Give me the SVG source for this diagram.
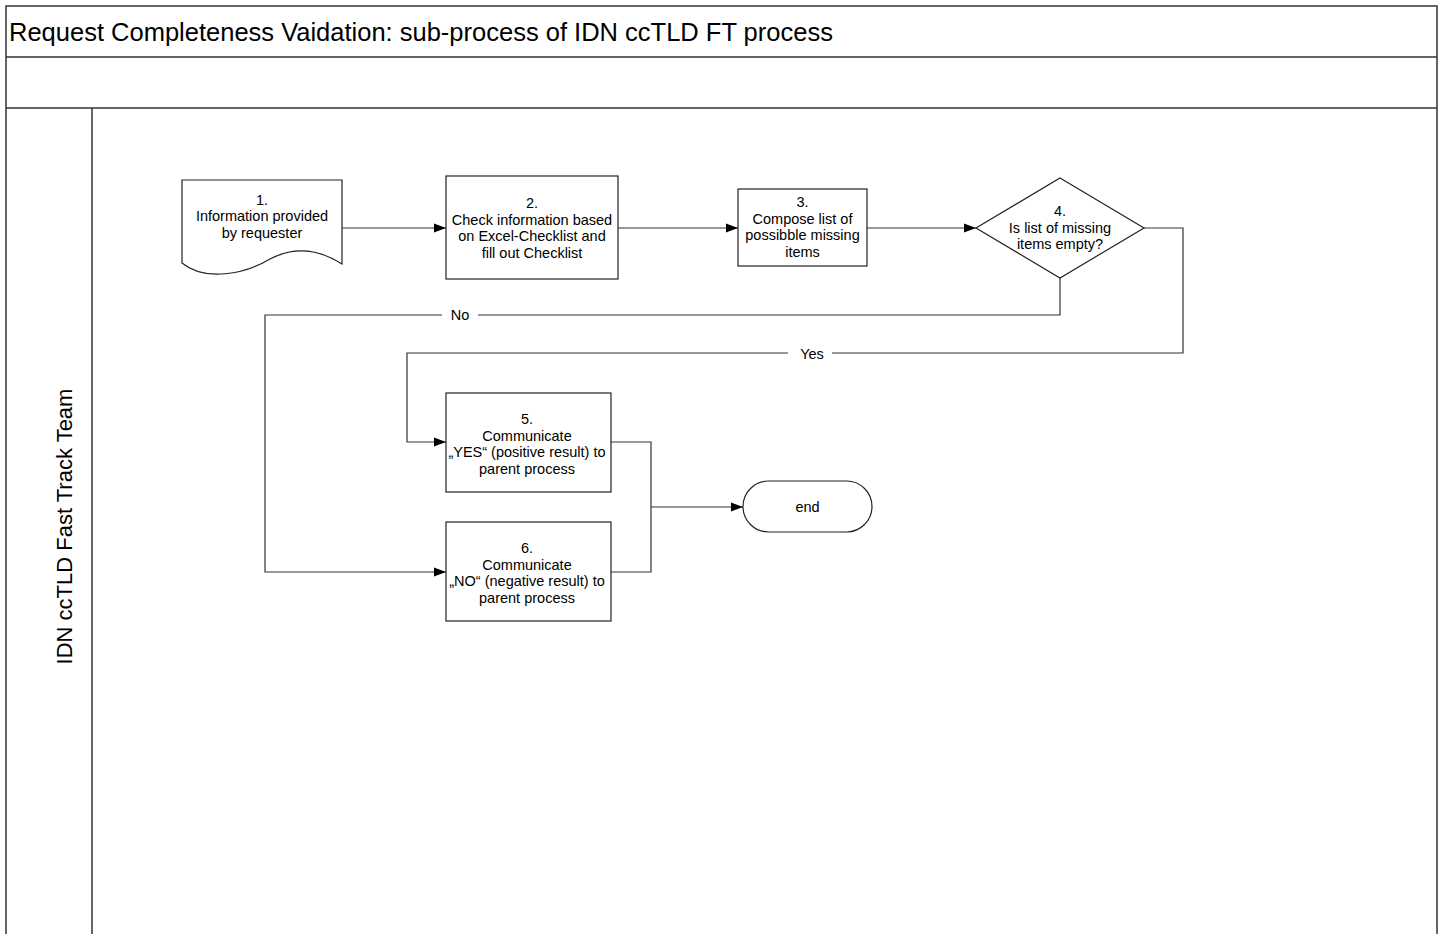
<svg xmlns="http://www.w3.org/2000/svg" width="1444" height="934" viewBox="0 0 1444 934">
<style>
  text { font-family: "Liberation Sans", Arial, sans-serif; fill: #000; }
  .t { font-size: 14.5px; text-anchor: middle; }
  .shape { fill: #fff; stroke: #222; stroke-width: 1.2; }
  .conn { fill: none; stroke: #333; stroke-width: 1.2; }
  .frame { fill: none; stroke: #333; stroke-width: 1.5; }
</style>
<defs>
  <marker id="arr" markerWidth="12" markerHeight="10" refX="12" refY="5" orient="auto" markerUnits="userSpaceOnUse">
    <path d="M0,0.5 L12,5 L0,9.5 Z" fill="#000"/>
  </marker>
</defs>
<rect width="1444" height="934" fill="#fff"/>
<g id="pool">
  <path class="frame" d="M6,940 V6 H1437 V940"/>
  <line class="frame" x1="6" y1="57" x2="1437" y2="57"/>
  <line class="frame" x1="6" y1="108" x2="1437" y2="108"/>
  <line class="frame" x1="92" y1="108" x2="92" y2="940"/>
  <text x="9" y="41" style="font-size:25.5px">Request Completeness Vaidation: sub-process of IDN ccTLD FT process</text>
  <text transform="translate(72,526.5) rotate(-90)" style="font-size:22px" text-anchor="middle">IDN ccTLD Fast Track Team</text>
</g>
<g id="connectors">
  <line class="conn" x1="342" y1="228" x2="446" y2="228" marker-end="url(#arr)"/>
  <line class="conn" x1="618" y1="228" x2="738" y2="228" marker-end="url(#arr)"/>
  <line class="conn" x1="867" y1="228" x2="976" y2="228" marker-end="url(#arr)"/>
  <path class="conn" d="M1144,228 H1183 V353 H832 M788,353 H407 V442 H446" marker-end="url(#arr)"/>
  <text class="t" x="812" y="359">Yes</text>
  <path class="conn" d="M1060,278 V315 H478 M442,315 H265 V572 H446" marker-end="url(#arr)"/>
  <text class="t" x="460" y="320">No</text>
  <path class="conn" d="M611,442 H651 V572 H611"/>
  <line class="conn" x1="651" y1="507" x2="743" y2="507" marker-end="url(#arr)"/>
</g>
<g id="n1">
  <path class="shape" d="M182,180 H342 V264 C320,250 295,246 270,259 C245,274 205,282 182,263 Z"/>
  <text class="t" x="262" y="205">1.</text>
  <text class="t" x="262" y="221">Information provided</text>
  <text class="t" x="262" y="237.5">by requester</text>
</g>
<g id="n2">
  <rect class="shape" x="446" y="176" width="172" height="103"/>
  <text class="t" x="532" y="208">2.</text>
  <text class="t" x="532" y="224.5">Check information based</text>
  <text class="t" x="532" y="241">on Excel-Checklist and</text>
  <text class="t" x="532" y="257.5">fill out Checklist</text>
</g>
<g id="n3">
  <rect class="shape" x="738" y="189" width="129" height="77"/>
  <text class="t" x="802.5" y="207">3.</text>
  <text class="t" x="802.5" y="223.5">Compose list of</text>
  <text class="t" x="802.5" y="240">possibble missing</text>
  <text class="t" x="802.5" y="256.5">items</text>
</g>
<g id="n4">
  <polygon class="shape" points="1060,178 1144,228 1060,278 976,228"/>
  <text class="t" x="1060" y="216">4.</text>
  <text class="t" x="1060" y="232.5">Is list of missing</text>
  <text class="t" x="1060" y="249">items empty?</text>
</g>
<g id="n5">
  <rect class="shape" x="446" y="393" width="165" height="99"/>
  <text class="t" x="527" y="424">5.</text>
  <text class="t" x="527" y="440.5">Communicate</text>
  <text class="t" x="527" y="457">„YES“ (positive result) to</text>
  <text class="t" x="527" y="473.5">parent process</text>
</g>
<g id="n6">
  <rect class="shape" x="446" y="522" width="165" height="99"/>
  <text class="t" x="527" y="553">6.</text>
  <text class="t" x="527" y="569.5">Communicate</text>
  <text class="t" x="527" y="586">„NO“ (negative result) to</text>
  <text class="t" x="527" y="602.5">parent process</text>
</g>
<g id="end">
  <rect class="shape" x="743" y="481" width="129" height="51" rx="25.5" ry="25.5"/>
  <text class="t" x="807.5" y="512">end</text>
</g>
</svg>
